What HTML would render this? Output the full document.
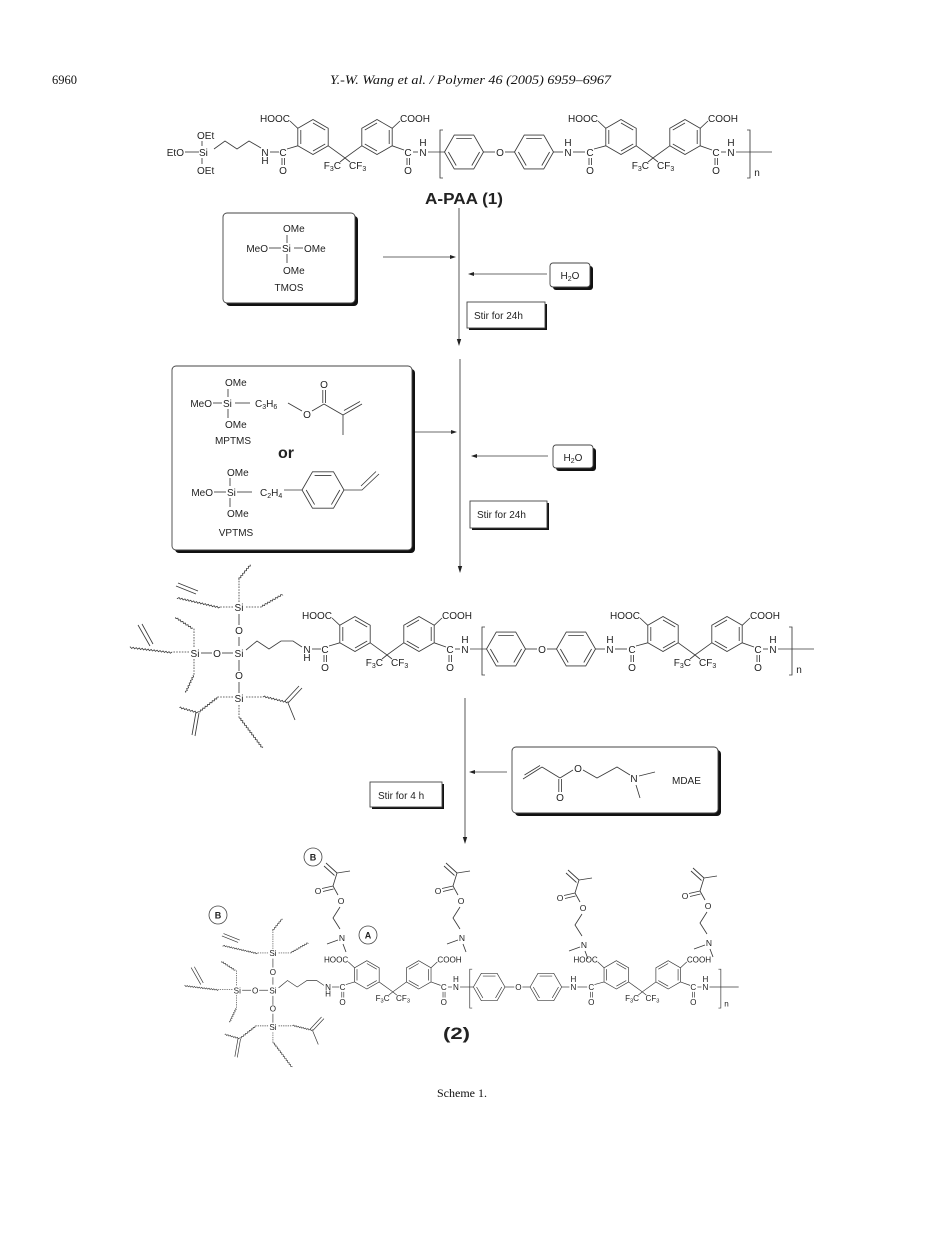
<!DOCTYPE html>
<html><head><meta charset="utf-8"><style>
html,body{margin:0;padding:0;background:#fff;}
svg{display:block;font-size:10px;}
.b{stroke:#3a3a3a;stroke-width:0.85;fill:none;}
.d{stroke:#3a3a3a;stroke-width:0.8;fill:none;stroke-dasharray:1.6 1.2;}
.w{stroke:#3a3a3a;stroke-width:0.8;fill:none;}
text{font-family:"Liberation Sans",sans-serif;fill:#222;text-anchor:middle;}
.s{text-anchor:start;}
.e{text-anchor:end;}
.bx{fill:#fff;stroke:#444;stroke-width:0.9;}
.sh{fill:#111;}
.serif{font-family:"Liberation Serif",serif;fill:#111;}
</style></head><body>
<svg width="925" height="1235" viewBox="0 0 925 1235" xmlns="http://www.w3.org/2000/svg">
<defs>
<path id="wv" d="M0,0 l1.5,-1.4l1.5,1.4l1.5,-1.4l1.5,1.4l1.5,-1.4l1.5,1.4l1.5,-1.4l1.5,1.4l1.5,-1.4l1.5,1.4l1.5,-1.4l1.5,1.4l1.5,-1.4l1.5,1.4l1.5,-1.4l1.5,1.4l1.5,-1.4l1.5,1.4l1.5,-1.4l1.5,1.4l1.5,-1.4l1.5,1.4l1.5,-1.4l1.5,1.4l1.5,-1.4l1.5,1.4l1.5,-1.4l1.5,1.4l1.5,-1.4l1.5,1.4l1.5,-1.4l1.5,1.4l1.5,-1.4l1.5,1.4l1.5,-1.4l1.5,1.4l1.5,-1.4l1.5,1.4l1.5,-1.4l1.5,1.4l1.5,-1.4l1.5,1.4l1.5,-1.4l1.5,1.4l1.5,-1.4l1.5,1.4l1.5,-1.4l1.5,1.4l1.5,-1.4l1.5,1.4"/>
</defs>

<!-- Header -->
<text class="serif s" x="52" y="84" font-size="12.5">6960</text>
<text class="serif s" x="330" y="84" font-size="13" font-style="italic" textLength="281" lengthAdjust="spacingAndGlyphs">Y.-W. Wang et al. / Polymer 46 (2005) 6959–6967</text>

<!-- ================= Structure 1 ================= -->
<g>
<g class="b">
<line x1="185" y1="152" x2="199" y2="152"/>
<line x1="202" y1="141" x2="202" y2="146"/>
<line x1="202" y1="158" x2="202" y2="164"/>
<polyline points="214,149 225,141 237,149 249,141 261,148"/>
</g>
<text class="s" x="197" y="139">OEt</text>
<text class="e" x="184" y="156">EtO</text>
<text class="s" x="199" y="156">Si</text>
<text class="s" x="197" y="174">OEt</text>
</g>
<g>
<g class="b">
<line x1="270" y1="152" x2="279" y2="152"/>
<line x1="282" y1="158" x2="282" y2="165"/><line x1="284.5" y1="158" x2="284.5" y2="165"/>
<line x1="287" y1="149" x2="297.8" y2="145.8"/>
<polygon points="313,119.5 328.2,128.3 328.2,145.8 313,154.5 297.8,145.8 297.8,128.3"/>
<path d="M313,123 L325.2,130 M325.2,144 L313,151 M300.8,144 L300.8,130"/>
<line x1="297.8" y1="128.3" x2="290" y2="121"/>
<path d="M328.2,145.8 L345,158 L361.8,145.8 M345,158 L340,162 M345,158 L350,162"/>
<polygon points="377,119.5 392.2,128.3 392.2,145.8 377,154.5 361.8,145.8 361.8,128.3"/>
<path d="M377,123 L364.8,130 M364.8,144 L377,151 M389.2,130 L389.2,144"/>
<line x1="392.2" y1="128.3" x2="400" y2="121"/>
<line x1="392.2" y1="145.8" x2="404" y2="150"/>
<path d="M407,158 V165 M409.5,158 V165"/>
<line x1="413" y1="152" x2="418" y2="152"/>
<line x1="428" y1="152" x2="444.5" y2="152"/>
<path d="M443,130 H440 V178 H443"/>
<polygon points="444.5,152 454.25,135.1 473.75,135.1 483.5,152 473.75,168.9 454.25,168.9"/>
<path d="M456.2,138.5 L471.8,138.5 M479.6,152 L471.8,165.5 M456.2,165.5 L448.4,152"/>
<line x1="483.5" y1="152" x2="495" y2="152"/>
<line x1="505" y1="152" x2="514.5" y2="152"/>
<polygon points="514.5,152 524.25,135.1 543.75,135.1 553.5,152 543.75,168.9 524.25,168.9"/>
<path d="M526.2,138.5 L541.8,138.5 M549.6,152 L541.8,165.5 M526.2,165.5 L518.4,152"/>
<line x1="553.5" y1="152" x2="563" y2="152"/>
<line x1="573" y1="152" x2="585" y2="152"/>
<path d="M589,158 V165 M591.5,158 V165"/>
<line x1="594" y1="149" x2="605.8" y2="145.8"/>
<polygon points="621,119.5 636.2,128.3 636.2,145.8 621,154.5 605.8,145.8 605.8,128.3"/>
<path d="M621,123 L633.2,130 M633.2,144 L621,151 M608.8,144 L608.8,130"/>
<line x1="605.8" y1="128.3" x2="598" y2="121"/>
<path d="M636.2,145.8 L653,158 L669.8,145.8 M653,158 L648,162 M653,158 L658,162"/>
<polygon points="685,119.5 700.2,128.3 700.2,145.8 685,154.5 669.8,145.8 669.8,128.3"/>
<path d="M685,123 L672.8,130 M672.8,144 L685,151 M697.2,130 L697.2,144"/>
<line x1="700.2" y1="128.3" x2="708" y2="121"/>
<line x1="700.2" y1="145.8" x2="712" y2="150"/>
<path d="M715,158 V165 M717.5,158 V165"/>
<line x1="721" y1="152" x2="726" y2="152"/>
<line x1="736" y1="152" x2="772" y2="152"/>
<path d="M747,130 H750 V178 H747"/>
</g>
<text x="265" y="156">N</text><text x="265" y="164">H</text>
<text x="283" y="156">C</text><text x="283" y="174">O</text>
<text class="e" x="290" y="122">HOOC</text>
<text class="e" x="341" y="169">F<tspan font-size="7" dy="2">3</tspan><tspan dy="-2">C</tspan></text>
<text class="s" x="349" y="169">CF<tspan font-size="7" dy="2">3</tspan></text>
<text class="s" x="400" y="122">COOH</text>
<text x="408" y="156">C</text><text x="408" y="174">O</text>
<text x="423" y="146">H</text><text x="423" y="156">N</text>
<text x="500" y="156">O</text>
<text x="568" y="146">H</text><text x="568" y="156">N</text>
<text x="590" y="156">C</text><text x="590" y="174">O</text>
<text class="e" x="598" y="122">HOOC</text>
<text class="e" x="649" y="169">F<tspan font-size="7" dy="2">3</tspan><tspan dy="-2">C</tspan></text>
<text class="s" x="657" y="169">CF<tspan font-size="7" dy="2">3</tspan></text>
<text class="s" x="708" y="122">COOH</text>
<text x="716" y="156">C</text><text x="716" y="174">O</text>
<text x="731" y="146">H</text><text x="731" y="156">N</text>
<text x="757" y="176">n</text>
</g>
<text class="s" x="425" y="204" font-size="16" font-weight="bold" textLength="78" lengthAdjust="spacingAndGlyphs">A-PAA (1)</text>

<!-- ================= Step 1 ================= -->
<g class="b">
<line x1="459" y1="208" x2="459" y2="341"/>
<line x1="383" y1="257" x2="451" y2="257"/>
<line x1="547" y1="274" x2="473" y2="274"/>
</g>
<polygon points="456.8,339 461.2,339 459,346" fill="#222"/>
<polygon points="450,255 450,259 456,257" fill="#222"/>
<polygon points="474,272 474,276 468,274" fill="#222"/>

<rect class="sh" x="226" y="216" width="132" height="90" rx="4"/>
<rect class="bx" x="223" y="213" width="132" height="90" rx="4"/>
<g class="b">
<line x1="287" y1="235" x2="287" y2="243"/>
<line x1="269" y1="248" x2="281" y2="248"/>
<line x1="294" y1="248" x2="303" y2="248"/>
<line x1="287" y1="254" x2="287" y2="263"/>
</g>
<text class="s" x="283" y="232">OMe</text>
<text class="e" x="268" y="252">MeO</text>
<text class="s" x="282" y="252">Si</text>
<text class="s" x="304" y="252">OMe</text>
<text class="s" x="283" y="274">OMe</text>
<text x="289" y="291">TMOS</text>

<rect class="sh" x="553" y="266" width="40" height="24" rx="3"/>
<rect class="bx" x="550" y="263" width="40" height="24" rx="3"/>
<text x="570" y="279">H<tspan font-size="7" dy="2">2</tspan><tspan dy="-2">O</tspan></text>

<rect class="sh" x="469" y="304" width="78" height="26"/>
<rect class="bx" x="467" y="302" width="78" height="26"/>
<text class="s" x="474" y="319">Stir for 24h</text>

<!-- ================= Step 2 ================= -->
<g class="b">
<line x1="460" y1="359" x2="460" y2="568"/>
<line x1="414" y1="432" x2="452" y2="432"/>
<line x1="548" y1="456" x2="476" y2="456"/>
</g>
<polygon points="457.8,566 462.2,566 460,573" fill="#222"/>
<polygon points="451,430 451,434 457,432" fill="#222"/>
<polygon points="477,454 477,458 471,456" fill="#222"/>

<rect class="sh" x="175" y="369" width="240" height="184" rx="4"/>
<rect class="bx" x="172" y="366" width="240" height="184" rx="4"/>
<g class="b">
<line x1="228" y1="389" x2="228" y2="397"/>
<line x1="213" y1="403" x2="222" y2="403"/>
<line x1="235" y1="403" x2="250" y2="403"/>
<line x1="228" y1="409" x2="228" y2="418"/>
<line x1="288" y1="403" x2="302" y2="411"/>
<line x1="312" y1="411" x2="324" y2="404"/>
<line x1="322.8" y1="403" x2="322.8" y2="390"/><line x1="325.5" y1="403" x2="325.5" y2="390"/>
<line x1="324" y1="404" x2="343" y2="415"/>
<line x1="343" y1="415" x2="362" y2="404"/>
<line x1="344" y1="410.5" x2="360" y2="401.5"/>
<line x1="343" y1="415" x2="343" y2="435"/>
</g>
<text class="s" x="225" y="386">OMe</text>
<text class="e" x="212" y="407">MeO</text>
<text class="s" x="223" y="407">Si</text>
<text class="s" x="255" y="407">C<tspan font-size="7" dy="2">3</tspan><tspan dy="-2">H</tspan><tspan font-size="7" dy="2">6</tspan></text>
<text class="s" x="225" y="428">OMe</text>
<text x="307" y="418">O</text>
<text x="324" y="388">O</text>
<text x="233" y="444">MPTMS</text>
<text x="286" y="458" font-size="16" font-weight="bold">or</text>
<g class="b">
<line x1="230" y1="478" x2="230" y2="486"/>
<line x1="214" y1="492" x2="226" y2="492"/>
<line x1="237" y1="492" x2="252" y2="492"/>
<line x1="230" y1="498" x2="230" y2="507"/>
<line x1="284" y1="490" x2="302" y2="490"/>
<polygon points="302,490 312.5,471.8 333.5,471.8 344,490 333.5,508.2 312.5,508.2"/>
<path d="M314.6,475.4 L331.4,475.4 M339.8,490 L331.4,504.6 M314.6,504.6 L306.2,490"/>
<polyline points="344,490 362,490 379,474"/>
<line x1="361" y1="486" x2="376" y2="471.5"/>
</g>
<text class="s" x="227" y="476">OMe</text>
<text class="e" x="213" y="496">MeO</text>
<text class="s" x="227" y="496">Si</text>
<text class="s" x="260" y="496">C<tspan font-size="7" dy="2">2</tspan><tspan dy="-2">H</tspan><tspan font-size="7" dy="2">4</tspan></text>
<text class="s" x="227" y="517">OMe</text>
<text x="236" y="536">VPTMS</text>

<rect class="sh" x="556" y="448" width="40" height="23" rx="3"/>
<rect class="bx" x="553" y="445" width="40" height="23" rx="3"/>
<text x="573" y="461">H<tspan font-size="7" dy="2">2</tspan><tspan dy="-2">O</tspan></text>

<rect class="sh" x="472" y="503" width="77" height="27"/>
<rect class="bx" x="470" y="501" width="77" height="27"/>
<text class="s" x="477" y="518">Stir for 24h</text>

<!-- ================= Structure 3 ================= -->
<g id="s3">
<g>
<g class="b">
<line x1="201" y1="653" x2="212" y2="653"/>
<line x1="222" y1="653" x2="233" y2="653"/>
<line x1="239" y1="614" x2="239" y2="625"/>
<line x1="239" y1="637" x2="239" y2="646"/>
<line x1="239" y1="660" x2="239" y2="671"/>
<line x1="239" y1="682" x2="239" y2="693"/>
<polyline points="246,650 257,641 269,649 281,641 293,641 302,647"/>
<path d="M176,586 L196,594 M178,583 L198,591"/>
<path d="M138,625 L150,646 M142,624 L153,644"/>
<path d="M196,712 L192,735 M199,713 L195,736"/>
<path d="M288,703 L302,688 M285,701 L299,686 M288,703 L295,720"/>
</g>
<g class="d">
<line x1="233" y1="607" x2="220" y2="607"/>
<line x1="239" y1="602" x2="239" y2="580"/>
<line x1="246" y1="607" x2="262" y2="607"/>
<line x1="189" y1="652" x2="172" y2="652"/>
<line x1="194" y1="647" x2="194" y2="628"/>
<line x1="194" y1="659" x2="194" y2="675"/>
<line x1="233" y1="697" x2="217" y2="697"/>
<line x1="246" y1="697" x2="263" y2="697"/>
<line x1="239" y1="705" x2="239" y2="718"/>
</g>
<g class="w">
<use href="#wv" transform="translate(220,607) rotate(193)" stroke-dasharray="60 999"/>
<use href="#wv" transform="translate(239,580) rotate(-51)" stroke-dasharray="26 999"/>
<use href="#wv" transform="translate(262,607) rotate(-30)" stroke-dasharray="33 999"/>
<use href="#wv" transform="translate(172,652) rotate(187)" stroke-dasharray="58 999"/>
<use href="#wv" transform="translate(193,628) rotate(213)" stroke-dasharray="28 999"/>
<use href="#wv" transform="translate(193,675) rotate(115)" stroke-dasharray="26 999"/>
<use href="#wv" transform="translate(217,697) rotate(142)" stroke-dasharray="33 999"/>
<use href="#wv" transform="translate(198,712) rotate(196)" stroke-dasharray="26 999"/>
<use href="#wv" transform="translate(263,697) rotate(14)" stroke-dasharray="35 999"/>
<use href="#wv" transform="translate(239,718) rotate(53)" stroke-dasharray="52 999"/>
</g>
<text x="195" y="657">Si</text>
<text x="217" y="657">O</text>
<text x="239" y="657">Si</text>
<text x="239" y="611">Si</text>
<text x="239" y="634">O</text>
<text x="239" y="679">O</text>
<text x="239" y="702">Si</text>
</g>
<g transform="translate(42,497)">
<g class="b">
<line x1="270" y1="152" x2="279" y2="152"/>
<line x1="282" y1="158" x2="282" y2="165"/><line x1="284.5" y1="158" x2="284.5" y2="165"/>
<line x1="287" y1="149" x2="297.8" y2="145.8"/>
<polygon points="313,119.5 328.2,128.3 328.2,145.8 313,154.5 297.8,145.8 297.8,128.3"/>
<path d="M313,123 L325.2,130 M325.2,144 L313,151 M300.8,144 L300.8,130"/>
<line x1="297.8" y1="128.3" x2="290" y2="121"/>
<path d="M328.2,145.8 L345,158 L361.8,145.8 M345,158 L340,162 M345,158 L350,162"/>
<polygon points="377,119.5 392.2,128.3 392.2,145.8 377,154.5 361.8,145.8 361.8,128.3"/>
<path d="M377,123 L364.8,130 M364.8,144 L377,151 M389.2,130 L389.2,144"/>
<line x1="392.2" y1="128.3" x2="400" y2="121"/>
<line x1="392.2" y1="145.8" x2="404" y2="150"/>
<path d="M407,158 V165 M409.5,158 V165"/>
<line x1="413" y1="152" x2="418" y2="152"/>
<line x1="428" y1="152" x2="444.5" y2="152"/>
<path d="M443,130 H440 V178 H443"/>
<polygon points="444.5,152 454.25,135.1 473.75,135.1 483.5,152 473.75,168.9 454.25,168.9"/>
<path d="M456.2,138.5 L471.8,138.5 M479.6,152 L471.8,165.5 M456.2,165.5 L448.4,152"/>
<line x1="483.5" y1="152" x2="495" y2="152"/>
<line x1="505" y1="152" x2="514.5" y2="152"/>
<polygon points="514.5,152 524.25,135.1 543.75,135.1 553.5,152 543.75,168.9 524.25,168.9"/>
<path d="M526.2,138.5 L541.8,138.5 M549.6,152 L541.8,165.5 M526.2,165.5 L518.4,152"/>
<line x1="553.5" y1="152" x2="563" y2="152"/>
<line x1="573" y1="152" x2="585" y2="152"/>
<path d="M589,158 V165 M591.5,158 V165"/>
<line x1="594" y1="149" x2="605.8" y2="145.8"/>
<polygon points="621,119.5 636.2,128.3 636.2,145.8 621,154.5 605.8,145.8 605.8,128.3"/>
<path d="M621,123 L633.2,130 M633.2,144 L621,151 M608.8,144 L608.8,130"/>
<line x1="605.8" y1="128.3" x2="598" y2="121"/>
<path d="M636.2,145.8 L653,158 L669.8,145.8 M653,158 L648,162 M653,158 L658,162"/>
<polygon points="685,119.5 700.2,128.3 700.2,145.8 685,154.5 669.8,145.8 669.8,128.3"/>
<path d="M685,123 L672.8,130 M672.8,144 L685,151 M697.2,130 L697.2,144"/>
<line x1="700.2" y1="128.3" x2="708" y2="121"/>
<line x1="700.2" y1="145.8" x2="712" y2="150"/>
<path d="M715,158 V165 M717.5,158 V165"/>
<line x1="721" y1="152" x2="726" y2="152"/>
<line x1="736" y1="152" x2="772" y2="152"/>
<path d="M747,130 H750 V178 H747"/>
</g>
<text x="265" y="156">N</text><text x="265" y="164">H</text>
<text x="283" y="156">C</text><text x="283" y="174">O</text>
<text class="e" x="290" y="122">HOOC</text>
<text class="e" x="341" y="169">F<tspan font-size="7" dy="2">3</tspan><tspan dy="-2">C</tspan></text>
<text class="s" x="349" y="169">CF<tspan font-size="7" dy="2">3</tspan></text>
<text class="s" x="400" y="122">COOH</text>
<text x="408" y="156">C</text><text x="408" y="174">O</text>
<text x="423" y="146">H</text><text x="423" y="156">N</text>
<text x="500" y="156">O</text>
<text x="568" y="146">H</text><text x="568" y="156">N</text>
<text x="590" y="156">C</text><text x="590" y="174">O</text>
<text class="e" x="598" y="122">HOOC</text>
<text class="e" x="649" y="169">F<tspan font-size="7" dy="2">3</tspan><tspan dy="-2">C</tspan></text>
<text class="s" x="657" y="169">CF<tspan font-size="7" dy="2">3</tspan></text>
<text class="s" x="708" y="122">COOH</text>
<text x="716" y="156">C</text><text x="716" y="174">O</text>
<text x="731" y="146">H</text><text x="731" y="156">N</text>
<text x="757" y="176">n</text>
</g>
</g>

<!-- ================= Step 3 ================= -->
<g class="b">
<line x1="465" y1="698" x2="465" y2="839"/>
<line x1="507" y1="772" x2="474" y2="772"/>
</g>
<polygon points="462.8,837 467.2,837 465,844" fill="#222"/>
<polygon points="475,770 475,774 469,772" fill="#222"/>

<rect class="sh" x="515" y="750" width="206" height="66" rx="4"/>
<rect class="bx" x="512" y="747" width="206" height="66" rx="4"/>
<g class="b">
<line x1="523" y1="779" x2="542" y2="767"/>
<line x1="524.5" y1="775" x2="540" y2="765.5"/>
<line x1="542" y1="767" x2="560" y2="778"/>
<line x1="558.8" y1="779" x2="558.8" y2="792"/><line x1="561.5" y1="779" x2="561.5" y2="792"/>
<line x1="560" y1="778" x2="573" y2="770"/>
<polyline points="583,770 597,778 617,767 630,775"/>
<line x1="639" y1="776" x2="655" y2="772"/>
<line x1="636" y1="785" x2="640" y2="798"/>
</g>
<text x="560" y="801">O</text>
<text x="578" y="772">O</text>
<text x="634" y="782">N</text>
<text class="s" x="672" y="784">MDAE</text>

<rect class="sh" x="372" y="784" width="72" height="25"/>
<rect class="bx" x="370" y="782" width="72" height="25"/>
<text class="s" x="378" y="799">Stir for 4 h</text>

<!-- ================= Structure 2 ================= -->
<g transform="translate(328,987) scale(0.81) translate(-307,-649)">
<g>
<g class="b">
<line x1="201" y1="653" x2="212" y2="653"/>
<line x1="222" y1="653" x2="233" y2="653"/>
<line x1="239" y1="614" x2="239" y2="625"/>
<line x1="239" y1="637" x2="239" y2="646"/>
<line x1="239" y1="660" x2="239" y2="671"/>
<line x1="239" y1="682" x2="239" y2="693"/>
<polyline points="246,650 257,641 269,649 281,641 293,641 302,647"/>
<path d="M176,586 L196,594 M178,583 L198,591"/>
<path d="M138,625 L150,646 M142,624 L153,644"/>
<path d="M196,712 L192,735 M199,713 L195,736"/>
<path d="M288,703 L302,688 M285,701 L299,686 M288,703 L295,720"/>
</g>
<g class="d">
<line x1="233" y1="607" x2="220" y2="607"/>
<line x1="239" y1="602" x2="239" y2="580"/>
<line x1="246" y1="607" x2="262" y2="607"/>
<line x1="189" y1="652" x2="172" y2="652"/>
<line x1="194" y1="647" x2="194" y2="628"/>
<line x1="194" y1="659" x2="194" y2="675"/>
<line x1="233" y1="697" x2="217" y2="697"/>
<line x1="246" y1="697" x2="263" y2="697"/>
<line x1="239" y1="705" x2="239" y2="718"/>
</g>
<g class="w">
<use href="#wv" transform="translate(220,607) rotate(193)" stroke-dasharray="60 999"/>
<use href="#wv" transform="translate(239,580) rotate(-51)" stroke-dasharray="26 999"/>
<use href="#wv" transform="translate(262,607) rotate(-30)" stroke-dasharray="33 999"/>
<use href="#wv" transform="translate(172,652) rotate(187)" stroke-dasharray="58 999"/>
<use href="#wv" transform="translate(193,628) rotate(213)" stroke-dasharray="28 999"/>
<use href="#wv" transform="translate(193,675) rotate(115)" stroke-dasharray="26 999"/>
<use href="#wv" transform="translate(217,697) rotate(142)" stroke-dasharray="33 999"/>
<use href="#wv" transform="translate(198,712) rotate(196)" stroke-dasharray="26 999"/>
<use href="#wv" transform="translate(263,697) rotate(14)" stroke-dasharray="35 999"/>
<use href="#wv" transform="translate(239,718) rotate(53)" stroke-dasharray="52 999"/>
</g>
<text x="195" y="657">Si</text>
<text x="217" y="657">O</text>
<text x="239" y="657">Si</text>
<text x="239" y="611">Si</text>
<text x="239" y="634">O</text>
<text x="239" y="679">O</text>
<text x="239" y="702">Si</text>
</g>
<g transform="translate(42,497)">
<g class="b">
<line x1="270" y1="152" x2="279" y2="152"/>
<line x1="282" y1="158" x2="282" y2="165"/><line x1="284.5" y1="158" x2="284.5" y2="165"/>
<line x1="287" y1="149" x2="297.8" y2="145.8"/>
<polygon points="313,119.5 328.2,128.3 328.2,145.8 313,154.5 297.8,145.8 297.8,128.3"/>
<path d="M313,123 L325.2,130 M325.2,144 L313,151 M300.8,144 L300.8,130"/>
<line x1="297.8" y1="128.3" x2="290" y2="121"/>
<path d="M328.2,145.8 L345,158 L361.8,145.8 M345,158 L340,162 M345,158 L350,162"/>
<polygon points="377,119.5 392.2,128.3 392.2,145.8 377,154.5 361.8,145.8 361.8,128.3"/>
<path d="M377,123 L364.8,130 M364.8,144 L377,151 M389.2,130 L389.2,144"/>
<line x1="392.2" y1="128.3" x2="400" y2="121"/>
<line x1="392.2" y1="145.8" x2="404" y2="150"/>
<path d="M407,158 V165 M409.5,158 V165"/>
<line x1="413" y1="152" x2="418" y2="152"/>
<line x1="428" y1="152" x2="444.5" y2="152"/>
<path d="M443,130 H440 V178 H443"/>
<polygon points="444.5,152 454.25,135.1 473.75,135.1 483.5,152 473.75,168.9 454.25,168.9"/>
<path d="M456.2,138.5 L471.8,138.5 M479.6,152 L471.8,165.5 M456.2,165.5 L448.4,152"/>
<line x1="483.5" y1="152" x2="495" y2="152"/>
<line x1="505" y1="152" x2="514.5" y2="152"/>
<polygon points="514.5,152 524.25,135.1 543.75,135.1 553.5,152 543.75,168.9 524.25,168.9"/>
<path d="M526.2,138.5 L541.8,138.5 M549.6,152 L541.8,165.5 M526.2,165.5 L518.4,152"/>
<line x1="553.5" y1="152" x2="563" y2="152"/>
<line x1="573" y1="152" x2="585" y2="152"/>
<path d="M589,158 V165 M591.5,158 V165"/>
<line x1="594" y1="149" x2="605.8" y2="145.8"/>
<polygon points="621,119.5 636.2,128.3 636.2,145.8 621,154.5 605.8,145.8 605.8,128.3"/>
<path d="M621,123 L633.2,130 M633.2,144 L621,151 M608.8,144 L608.8,130"/>
<line x1="605.8" y1="128.3" x2="598" y2="121"/>
<path d="M636.2,145.8 L653,158 L669.8,145.8 M653,158 L648,162 M653,158 L658,162"/>
<polygon points="685,119.5 700.2,128.3 700.2,145.8 685,154.5 669.8,145.8 669.8,128.3"/>
<path d="M685,123 L672.8,130 M672.8,144 L685,151 M697.2,130 L697.2,144"/>
<line x1="700.2" y1="128.3" x2="708" y2="121"/>
<line x1="700.2" y1="145.8" x2="712" y2="150"/>
<path d="M715,158 V165 M717.5,158 V165"/>
<line x1="721" y1="152" x2="726" y2="152"/>
<line x1="736" y1="152" x2="772" y2="152"/>
<path d="M747,130 H750 V178 H747"/>
</g>
<text x="265" y="156">N</text><text x="265" y="164">H</text>
<text x="283" y="156">C</text><text x="283" y="174">O</text>
<text class="e" x="290" y="122">HOOC</text>
<text class="e" x="341" y="169">F<tspan font-size="7" dy="2">3</tspan><tspan dy="-2">C</tspan></text>
<text class="s" x="349" y="169">CF<tspan font-size="7" dy="2">3</tspan></text>
<text class="s" x="400" y="122">COOH</text>
<text x="408" y="156">C</text><text x="408" y="174">O</text>
<text x="423" y="146">H</text><text x="423" y="156">N</text>
<text x="500" y="156">O</text>
<text x="568" y="146">H</text><text x="568" y="156">N</text>
<text x="590" y="156">C</text><text x="590" y="174">O</text>
<text class="e" x="598" y="122">HOOC</text>
<text class="e" x="649" y="169">F<tspan font-size="7" dy="2">3</tspan><tspan dy="-2">C</tspan></text>
<text class="s" x="657" y="169">CF<tspan font-size="7" dy="2">3</tspan></text>
<text class="s" x="708" y="122">COOH</text>
<text x="716" y="156">C</text><text x="716" y="174">O</text>
<text x="731" y="146">H</text><text x="731" y="156">N</text>
<text x="757" y="176">n</text>
</g>
</g>

<!-- MDAE pendants on structure 2 -->
<g>
<g class="b">
<path d="M326,863 L337,873 M324,866 L334.5,875.5 M337,873 L350,871 M337,873 L333,886 M333,886 L322,888.5 M333.5,889 L323,891.5 M333,886 L338,895 M340,907 L333,918 L340,929 M338,940 L327,944 M343,944 L346,952"/>
</g>
<text x="318" y="894" font-size="8.5">O</text>
<text x="341" y="904" font-size="8.5">O</text>
<text x="342" y="941" font-size="8.5">N</text>
</g>
<g transform="translate(120,0)">
<g class="b">
<path d="M326,863 L337,873 M324,866 L334.5,875.5 M337,873 L350,871 M337,873 L333,886 M333,886 L322,888.5 M333.5,889 L323,891.5 M333,886 L338,895 M340,907 L333,918 L340,929 M338,940 L327,944 M343,944 L346,952"/>
</g>
<text x="318" y="894" font-size="8.5">O</text>
<text x="341" y="904" font-size="8.5">O</text>
<text x="342" y="941" font-size="8.5">N</text>
</g>
<g transform="translate(242,7)">
<g class="b">
<path d="M326,863 L337,873 M324,866 L334.5,875.5 M337,873 L350,871 M337,873 L333,886 M333,886 L322,888.5 M333.5,889 L323,891.5 M333,886 L338,895 M340,907 L333,918 L340,929 M338,940 L327,944 M343,944 L346,952"/>
</g>
<text x="318" y="894" font-size="8.5">O</text>
<text x="341" y="904" font-size="8.5">O</text>
<text x="342" y="941" font-size="8.5">N</text>
</g>
<g transform="translate(367,5)">
<g class="b">
<path d="M326,863 L337,873 M324,866 L334.5,875.5 M337,873 L350,871 M337,873 L333,886 M333,886 L322,888.5 M333.5,889 L323,891.5 M333,886 L338,895 M340,907 L333,918 L340,929 M338,940 L327,944 M343,944 L346,952"/>
</g>
<text x="318" y="894" font-size="8.5">O</text>
<text x="341" y="904" font-size="8.5">O</text>
<text x="342" y="941" font-size="8.5">N</text>
</g>

<!-- circle labels -->
<circle cx="313" cy="857" r="9" fill="#fff" stroke="#444" stroke-width="0.8"/>
<text x="313" y="860.5" font-size="9" font-weight="bold">B</text>
<circle cx="218" cy="915" r="9" fill="#fff" stroke="#444" stroke-width="0.8"/>
<text x="218" y="918.5" font-size="9" font-weight="bold">B</text>
<circle cx="368" cy="935" r="9" fill="#fff" stroke="#444" stroke-width="0.8"/>
<text x="368" y="938.5" font-size="9" font-weight="bold">A</text>

<text class="s" x="443" y="1039" font-size="17" font-weight="bold" textLength="27" lengthAdjust="spacingAndGlyphs">(2)</text>

<!-- Caption -->
<text class="serif" x="462" y="1097" font-size="12">Scheme 1.</text>
</svg>
</body></html>
